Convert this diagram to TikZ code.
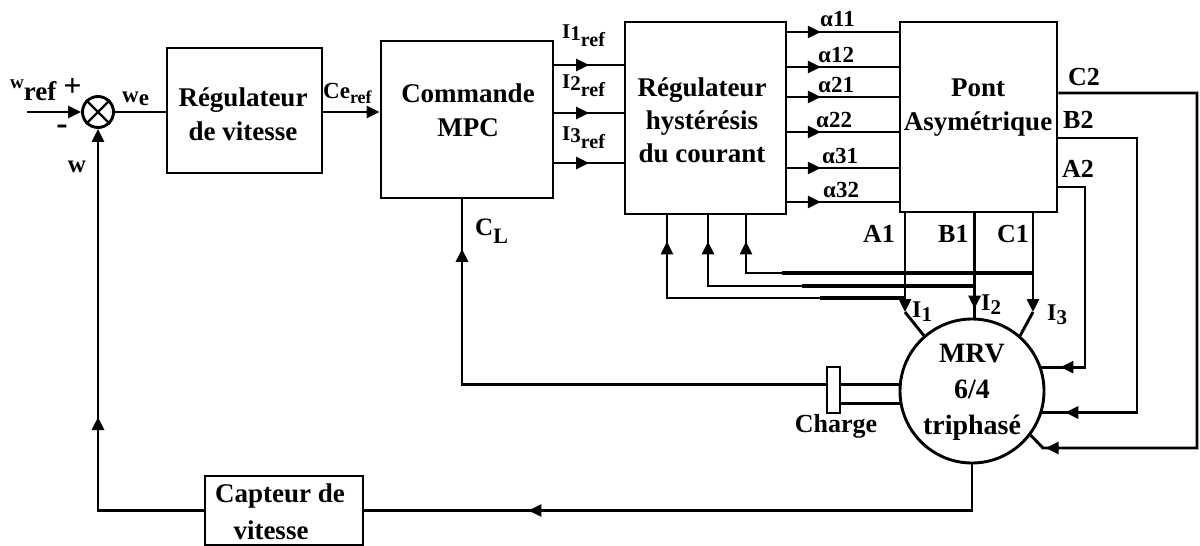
\documentclass[tikz,border=0pt]{standalone}
\usepackage{fontspec}
\setmainfont{Liberation Serif}
\usetikzlibrary{arrows.meta,decorations.markings}
\newcommand\myfs[1]{\fontsize{#1}{#1}\selectfont}
\tikzset{
  ln/.style={line width=2.9pt},
  tip/.style={-{Triangle[length=13pt,width=12pt]}},
  blk/.style={draw,line width=2.9pt,rectangle,inner sep=0pt},
  rnd/.style={draw,line width=2.9pt,circle,inner sep=0pt},
  txt/.style={font=\bfseries\fontsize{27}{34}\selectfont,align=center,inner sep=0pt},
  lab/.style={font=\bfseries\myfs{26},inner sep=0pt,anchor=base west},
  marr/.style={postaction={decorate},decoration={markings,mark=at position #1 with {\arrow{Triangle[length=13pt,width=12pt]}}}},
}
\begin{document}
\begin{tikzpicture}[x=1pt,y=-1pt]
\useasboundingbox (0,0) rectangle (1200,546);
% ---------- blocks
\node[rnd,minimum size=31pt] (sum) at (98,112) {};
\draw[line width=2.2pt] (sum.45) -- (sum.225) (sum.135) -- (sum.315);
\node[blk,minimum width=155pt,minimum height=125pt] (rv) at (244.5,110.5) {};
\node[blk,minimum width=172pt,minimum height=157pt] (mpc) at (467,119.5) {};
\node[blk,minimum width=161pt,minimum height=192pt] (hyst) at (705.5,118) {};
\node[blk,minimum width=157pt,minimum height=190pt] (pont) at (978.5,117) {};
\node[blk,minimum width=158pt,minimum height=69pt] (capt) at (284,510.5) {};
\node[rnd,minimum size=144pt] (mrv) at (972,391) {};
\node[blk,line width=2.4pt,fill=white,minimum width=13pt,minimum height=46pt] (charge) at (833.5,390) {};
% ---------- block texts
\node[txt] (rvt) at (243,114) {Régulateur\\de vitesse};
\node[txt] (mpct) at (468,110) {Commande\\MPC};
\node[txt,font=\bfseries\fontsize{27}{33}\selectfont] (hystt) at (702,120) {Régulateur\\hystérésis\\du courant};
\node[txt] (pontt) at (978,108) {Pont\\Asymétrique};
\node[txt,font=\bfseries\fontsize{28}{36}\selectfont] (mrvt) at (972,392) {MRV\\6/4\hspace*{20pt}\\triphasé};
\node[txt,font=\bfseries\fontsize{27}{37}\selectfont] (captt) at (280,512) {Capteur de\\vitesse\hspace*{18pt}};
% ---------- connectors
\coordinate (win) at (27,112);
\draw[ln,tip] (win) -- (sum.west);
\draw[ln] (sum.east) -- (sum.east -| rv.west);
\draw[ln,tip] (rv.east |- sum) -- (mpc.west |- sum);
\foreach \y in {65,113,163}
  \draw[ln,marr=0.5] (mpc.east |- 0,\y) -- (hyst.west |- 0,\y);
\foreach \y in {32,67,97,132,168,202}
  \draw[ln,marr=0.3] (hyst.east |- 0,\y) -- (pont.west |- 0,\y);
% load torque feedback
\draw[ln,marr=0.91] (charge.west |- mrv.175) -| (mpc.south -| 462,0);
\draw[ln] (charge.east |- mrv.175) -- (mrv.175);
\draw[ln] (charge.east |- mrv.190) -- (mrv.190);
% phase currents
\coordinate (a1e) at (905,312);
\coordinate (c1e) at (1033,312);
\draw[ln,tip] (pont.south -| a1e) -- (a1e);
\draw[ln] (a1e) -- (mrv.131);
\draw[ln,marr=-9pt] (pont.south -| mrv.88) -- (mrv.88);
\draw[ln,tip] (pont.south -| c1e) -- (c1e);
\draw[ln] (c1e) -- (mrv.49);
% current feedback to hysteresis
\coordinate (c1b) at (1033,273);
\coordinate (b1b) at (974,286);
\coordinate (a1b) at (905,298);
\draw[ln,marr=-26pt] (c1b) -| (hyst.south -| 746,0);
\draw[ln,marr=-26pt] (b1b) -| (hyst.south -| 708,0);
\draw[ln,marr=-26pt] (a1b) -| (hyst.south -| 667,0);
\draw[line width=4.6pt] (c1b) -- ++(-251,0);
\draw[line width=4.6pt] (b1b) -- ++(-172,0);
\draw[line width=4.6pt] (a1b) -- ++(-85,0);
% second phase terminals
\draw[ln,marr=-19pt] (pont.east |- 0,187) -| (mrv.19.5 -| 1085,0) -- (mrv.19.5);
\draw[ln,marr=-23pt] (pont.east |- 0,138) -| (mrv.-17.8 -| 1137,0) -- (mrv.-17.8);
\coordinate (c2r) at (1197,448);
\coordinate (c2e) at (1043,448);
\draw[ln,marr=-20.5pt] (pont.east |- 0,93) -| (c2r) -- (c2e) -- (mrv.-37);
% speed measurement
\draw[ln,marr=-164pt] (mrv.south) |- (capt.east);
\draw[ln,tip,marr=199pt] (capt.west) -| (sum.south);
% ---------- labels
\node[lab] (wref) at (10,100) {\raisebox{12pt}{\myfs{19}w}\myfs{27}ref};
\node[font=\bfseries\myfs{32},inner sep=0pt] (plus) at (72.5,87.5) {+};
\node[font=\bfseries\myfs{34},inner sep=0pt] (minus) at (62,130) {-};
\node[font=\bfseries\myfs{25},inner sep=0pt] (wfb) at (77,167) {w};
\node[lab] (we) at (122,102) {\myfs{23}w\raisebox{-3pt}{e}};
\node[lab] (ce) at (323,98) {\myfs{23}Ce\raisebox{-5pt}{\myfs{18}ref}};
\node[lab] (i1r) at (562,38) {\myfs{21}I\raisebox{-2pt}{1}\raisebox{-8pt}{\myfs{20}ref}};
\node[lab] (i2r) at (562,88) {\myfs{21}I\raisebox{-2pt}{2}\raisebox{-8pt}{\myfs{20}ref}};
\node[lab] (i3r) at (562,140) {\myfs{21}I\raisebox{-2pt}{3}\raisebox{-8pt}{\myfs{20}ref}};
\node[lab] (al11) at (820,27) {\myfs{23}α11};
\node[lab] (al12) at (818,62) {\myfs{23}α12};
\node[lab] (al21) at (818,92) {\myfs{23}α21};
\node[lab] (al22) at (816,127) {\myfs{23}α22};
\node[lab] (al31) at (822,163) {\myfs{23}α31};
\node[lab] (al32) at (823,197) {\myfs{23}α32};
\node[lab] (cl) at (475,235) {\myfs{25}C\raisebox{-8pt}{\myfs{22}L}};
\node[lab] (la1) at (863,242) {A1};
\node[lab] (lb1) at (938,242) {B1};
\node[lab] (lc1) at (997,242) {C1};
\node[lab] (la2) at (1062,177) {A2};
\node[lab] (lb2) at (1063,128) {B2};
\node[lab] (lc2) at (1068,85) {C2};
\node[lab] (li1) at (912,317) {\myfs{24}I\raisebox{-4pt}{\myfs{21}1}};
\node[lab] (li2) at (981,310) {\myfs{24}I\raisebox{-4pt}{\myfs{21}2}};
\node[lab] (li3) at (1047,320) {\myfs{24}I\raisebox{-4pt}{\myfs{21}3}};
\node[font=\bfseries\myfs{26},inner sep=0pt,anchor=base] (chg) at (836,432) {Charge};
\end{tikzpicture}
\end{document}
